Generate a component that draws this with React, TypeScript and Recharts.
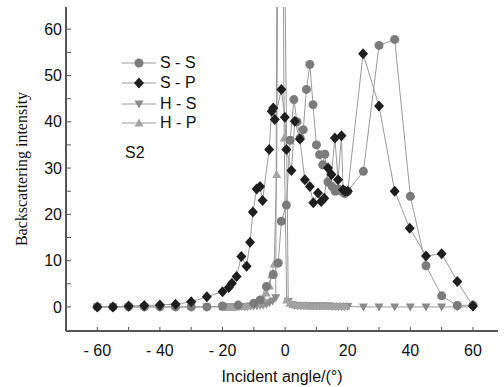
import React from 'react';
import { LineChart, Line, XAxis, YAxis } from 'recharts';

// S-S (gray circles)
const ssX = [-60, -55, -50, -45, -40, -35, -30, -25, -20, -15, -10, -8, -6, -3.8, -2.2, -1.2, 0.4, 1.6, 2.8, 3.8, 4.8, 5.8, 6.8, 7.9, 8.9, 10, 11, 12, 12.7, 13.7, 15, 16, 17, 18, 19, 20, 25, 30, 35, 40, 45, 50, 55, 60];
const ssY = [0, 0, 0, 0, 0, 0, 0, 0, 0.2, 0.4, 0.8, 1.5, 4.4, 7, 9.5, 18.5, 22, 36, 44.8, 40, 36.5, 38.3, 47, 52.4, 43.7, 35, 32.9, 30.7, 33, 27, 26, 25, 25.5, 25, 24.5, 25, 29.3, 56.5, 57.8, 23.9, 8.9, 2.4, 0.3, 0.4];

// S-P (black diamonds)
const spX = [-60, -55, -50, -45, -40, -35, -30, -25, -20, -18, -17, -15.5, -14, -12.3, -11.2, -10.3, -9.1, -8, -7.2, -5.1, -4.3, -3.8, -3.3, -1.2, -0.1, 0.4, 2, 3.1, 4.7, 6.3, 7.9, 9, 10.5, 11.5, 12.5, 13.7, 14.8, 15.9, 16.9, 18, 18.5, 19.1, 20, 24.9, 30, 35, 39.8, 45, 50, 55, 60];
const spY = [0, 0, 0.2, 0.3, 0.4, 0.6, 1.1, 2.2, 3.3, 4.2, 5.1, 6.6, 10.9, 8.8, 14, 20.5, 25.5, 26, 23, 34, 42.3, 43, 40.5, 47, 41, 34, 29.5, 40.1, 36.3, 27.5, 26, 22.5, 24.6, 22.8, 23.5, 30, 28.6, 36.5, 27.5, 37, 25.3, 25, 25, 54.7, 43.4, 25, 17, 11, 11.5, 5.5, 0.2];

// H-S (gray down triangles)
const hsX = [-60, -55, -50, -45, -40, -35, -30, -25, -20, -19, -18, -17, -16, -15, -14, -13, -12, -11, -10, -9, -8, -7, -6, -5, -4, -3, -2, 1, 2, 3, 4, 5, 6, 7, 8, 9, 10, 11, 12, 13, 14, 15, 16, 17, 18, 19, 20, 25, 30, 35, 40, 45, 50, 55, 60];
const hsY = [0, 0, 0, 0, 0, 0, 0, 0, 0, 0, 0, 0, 0, 0.1, 0.1, 0.1, 0.1, 0.2, 0.2, 0.2, 0.3, 0.4, 0.6, 0.9, 1.3, 2, 200, 1.2, 0.5, 0.3, 0.2, 0.2, 0.2, 0.2, 0.2, 0.2, 0.2, 0.2, 0.2, 0.2, 0.2, 0.1, 0.1, 0.1, 0.1, 0.1, 0.1, 0, 0, 0, 0, 0, 0, 0, 0];

// H-P (gray up triangles)
const hpX = [-20, -19, -18, -17, -16, -15, -14, -13, -12, -11, -10, -9, -8, -7, -6, -5, -4.3, -3.5, -2.7, -1.5, -0.3, 0.5, 1.5, 2.5, 3.5, 4.5, 5.5, 6.5, 7.5, 8.5, 9.5, 10.5, 11.5, 12.5, 13.5, 14.5, 15.5, 16.5, 17.5, 18.5, 19.5];
const hpY = [0, 0, 0, 0, 0, 0.1, 0.1, 0.1, 0.2, 0.3, 0.5, 0.7, 1, 1.8, 3, 4.5, 6.9, 9.3, 28.6, 200, 36.5, 1.5, 0.8, 0.5, 0.4, 0.3, 0.3, 0.3, 0.2, 0.2, 0.2, 0.2, 0.2, 0.2, 0.2, 0.2, 0.2, 0.2, 0.2, 0.2, 0.2];

const xTicks = [-60, -50, -40, -30, -20, -10, 0, 10, 20, 30, 40, 50, 60];
const yTicks = [0, 5, 10, 15, 20, 25, 30, 35, 40, 45, 50, 55, 60];

const toRows = (xs: number[], ys: number[]) => xs.map((x, i) => ({ x, y: ys[i] }));
const ssData = toRows(ssX, ssY);
const spData = toRows(spX, spY);
const hsData = toRows(hsX, hsY);
const hpData = toRows(hpX, hpY);

const C_SS = '#7b7b7b';
const C_SP = '#1e1e1e';
const C_HS = '#8a8a8a';
const C_HP = '#a2a2a2';
const LINE = '#9a9a9a';
const AXIS = '#555';

const Circle = (p: any) => <circle key={p.index} cx={p.cx} cy={p.cy} r={4.5} fill={C_SS} />;
const Diamond = (p: any) => (
  <path key={p.index} d={`M${p.cx},${p.cy - 5.5}L${p.cx + 5},${p.cy}L${p.cx},${p.cy + 5.5}L${p.cx - 5},${p.cy}Z`} fill={C_SP} />
);
const TriDown = (p: any) => (
  <path key={p.index} d={`M${p.cx - 4.5},${p.cy - 3.5}L${p.cx + 4.5},${p.cy - 3.5}L${p.cx},${p.cy + 4.5}Z`} fill={C_HS} />
);
const TriUp = (p: any) => (
  <path key={p.index} d={`M${p.cx - 4.5},${p.cy + 3.5}L${p.cx + 4.5},${p.cy + 3.5}L${p.cx},${p.cy - 4.5}Z`} fill={C_HP} />
);

const fmtX = (v: number) => (v % 20 === 0 ? (v < 0 ? `- ${-v}` : `${v}`) : '');
const fmtY = (v: number) => (v % 10 === 0 ? `${v}` : '');

const tickFont = { fontFamily: 'Liberation Sans, Arial, sans-serif', fontSize: 16, fill: '#111' };

const legendItems = [
  { name: 'S - S', Shape: Circle, top: 63 },
  { name: 'S - P', Shape: Diamond, top: 83 },
  { name: 'H - S', Shape: TriDown, top: 104 },
  { name: 'H - P', Shape: TriUp, top: 123 },
];

export default function App() {
  return (
    <div style={{ position: 'absolute', left: 0, top: 0, width: 504, height: 387, background: '#fff' }}>
      <LineChart width={504} height={387} margin={{ top: 7, right: 6, bottom: 0, left: 0 }}>
        <XAxis
          dataKey="x"
          type="number"
          domain={[-70, 68]}
          ticks={xTicks}
          tickFormatter={fmtX}
          allowDataOverflow
          height={56}
          tickSize={-4}
          tickMargin={18}
          axisLine={{ stroke: AXIS, strokeWidth: 2 }}
          tickLine={{ stroke: AXIS }}
          tick={tickFont}
          label={{ value: 'Incident angle/(°)', position: 'insideBottom', offset: 5, style: { ...tickFont, fontSize: 16, textAnchor: 'middle' } }}
        />
        <XAxis
          xAxisId="top"
          orientation="top"
          type="number"
          domain={[-70, 68]}
          ticks={xTicks}
          tickFormatter={() => ''}
          height={0}
          tickSize={-4}
          axisLine={{ stroke: AXIS, strokeWidth: 1.5 }}
          tickLine={{ stroke: AXIS }}
        />
        <YAxis
          type="number"
          domain={[-5.2, 64.8]}
          ticks={yTicks}
          tickFormatter={fmtY}
          allowDataOverflow
          width={66}
          tickSize={-5}
          tickMargin={9}
          axisLine={{ stroke: AXIS, strokeWidth: 2 }}
          tickLine={{ stroke: AXIS }}
          tick={tickFont}
          label={{
            value: 'Backscattering intensity',
            angle: -90,
            position: 'insideLeft',
            offset: 21,
            style: { fontFamily: 'Liberation Serif, Times New Roman, serif', fontSize: 16, fill: '#111', textAnchor: 'middle' },
          }}
        />
        <YAxis
          yAxisId="right"
          orientation="right"
          type="number"
          domain={[-5.2, 64.8]}
          ticks={yTicks}
          tickFormatter={() => ''}
          width={0}
          tickSize={-4}
          axisLine={{ stroke: AXIS, strokeWidth: 1.5 }}
          tickLine={{ stroke: AXIS }}
        />
        <Line data={hsData} dataKey="y" stroke={LINE} strokeWidth={1} dot={TriDown} activeDot={false} isAnimationActive={false} />
        <Line data={hpData} dataKey="y" stroke={LINE} strokeWidth={1} dot={TriUp} activeDot={false} isAnimationActive={false} />
        <Line data={ssData} dataKey="y" stroke={LINE} strokeWidth={1} dot={Circle} activeDot={false} isAnimationActive={false} />
        <Line data={spData} dataKey="y" stroke={LINE} strokeWidth={1} dot={Diamond} activeDot={false} isAnimationActive={false} />
      </LineChart>

      {legendItems.map(({ name, Shape, top }) => (
        <div key={name} style={{ position: 'absolute', left: 120, top: top - 10, height: 20, display: 'flex', alignItems: 'center' }}>
          <svg width={38} height={20}>
            <line x1={2} y1={10} x2={36} y2={10} stroke={LINE} strokeWidth={1} />
            <Shape cx={19} cy={10} index={0} />
          </svg>
          <span style={{ ...tickFont, color: '#111', marginLeft: 2, whiteSpace: 'pre' }}>{name}</span>
        </div>
      ))}
      <div style={{ position: 'absolute', left: 125, top: 144, ...tickFont, color: '#111' }}>S2</div>
    </div>
  );
}
